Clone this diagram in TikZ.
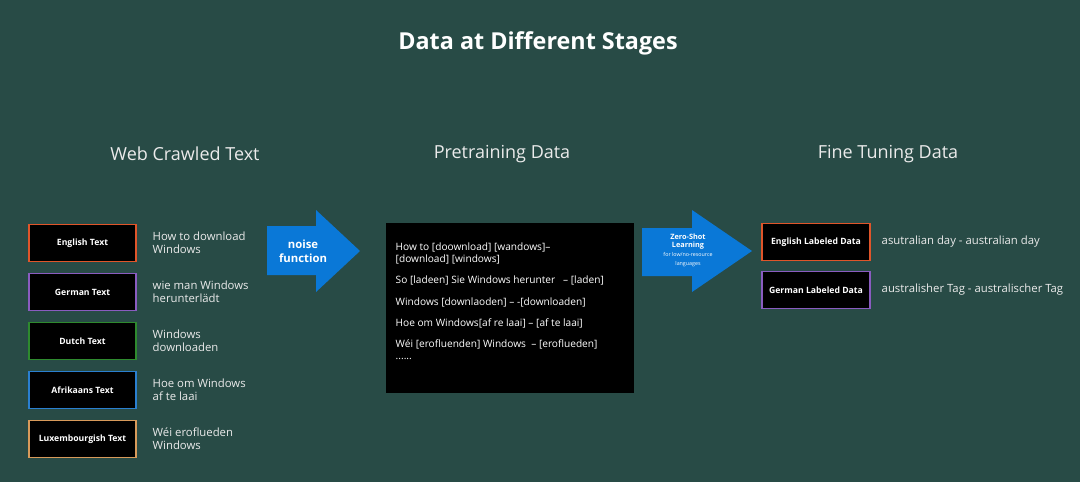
\documentclass[tikz,border=0pt]{standalone}
\usepackage{fontspec}
\setmainfont{Open Sans}
\definecolor{bg}{HTML}{284B46}
\definecolor{arrblue}{HTML}{0A78D7}
\definecolor{ce}{HTML}{E0552A}
\definecolor{cg}{HTML}{8A5CC0}
\definecolor{cd}{HTML}{2E8A2E}
\definecolor{ca}{HTML}{2A7FD0}
\definecolor{cl}{HTML}{D89A5A}
\begin{document}
\begin{tikzpicture}[x=0.75pt,y=-0.75pt,
 lbox/.style={draw,line width=1.2pt,fill=black,minimum width=80pt,minimum height=27.5pt,inner sep=0pt,text=white,font=\fontsize{6.5}{8}\selectfont\bfseries},
 side/.style={anchor=west,align=left,text=white!92!black,font=\fontsize{8.5}{10}\selectfont},
 hdr/.style={text=white!92!black,font=\fontsize{13.5}{16}\selectfont},
 arr/.style={fill=arrblue,draw=none}]
\fill[bg] (0,0) rectangle (1080,482);
\useasboundingbox (0,0) rectangle (1080,482);
\node[text=white,font=\fontsize{17.5}{20}\selectfont\bfseries] (title) at (538,43) {Data at Different Stages};
\node[hdr] (h1) at (185,154) {Web Crawled Text};
\node[hdr] (h2) at (502,154) {Pretraining Data};
\node[hdr] (h3) at (888,154) {Fine Tuning Data};
\foreach \n/\y/\t/\s in {e/243/English Text/How to download\\Windows,
 g/292/German Text/wie man Windows\\herunterlädt,
 d/341/Dutch Text/Windows\\downloaden,
 a/390/Afrikaans Text/Hoe om Windows\\af te laai,
 l/439/Luxembourgish Text/Wéi eroflueden\\Windows}{
 \node[lbox,draw=c\n] (b\n) at (82.5,\y) {\t};
 \node[side] (s\n) at (148,\y) {\s};
}
\draw[arr] (267,226) -- (316,226) -- (316,210) -- (360,251) -- (316,292) -- (316,275) -- (267,275) -- cycle;
\node[text=white,align=center,font=\fontsize{8.5}{10.5}\selectfont\bfseries] (nf) at (303,251) {noise\\function};
\node[fill=black,minimum width=186pt,minimum height=127.5pt,inner sep=0pt] (pt) at (510,308) {};
\node[anchor=north west,align=left,text=white,font=\fontsize{7.6}{9}\selectfont] (ptt) at (391,238) {How to [doownload] [wandows]--\\{}[download] [windows]\\[7pt]So [ladeen] Sie Windows herunter \ \ -- [laden]\\[7pt]Windows [downlaoden] -- -[downloaden]\\[7pt]Hoe om Windows[af re laai] -- [af te laai]\\[7pt]Wéi [erofluenden] Windows \ -- [eroflueden]\\......};
\draw[arr] (642,228) -- (692,228) -- (692,210) -- (752,251) -- (692,292) -- (692,276) -- (642,276) -- cycle;
\node[text=white,align=center,font=\fontsize{5.5}{6.5}\selectfont] (zs) at (688,250) {\textbf{Zero-Shot}\\\textbf{Learning}\\{\fontsize{4}{5}\selectfont for low/no-resource}\\{\fontsize{4}{5}\selectfont languages}};
\node[lbox,draw=ce,minimum width=81pt] (fe) at (816,242) {English Labeled Data};
\node[lbox,draw=cg,minimum width=81pt] (fg) at (816,290) {German Labeled Data};
\node[side] (sfe) at (877,242) {asutralian day - australian day};
\node[side] (sfg) at (877,290) {australisher Tag - australischer Tag};
\end{tikzpicture}
\end{document}
